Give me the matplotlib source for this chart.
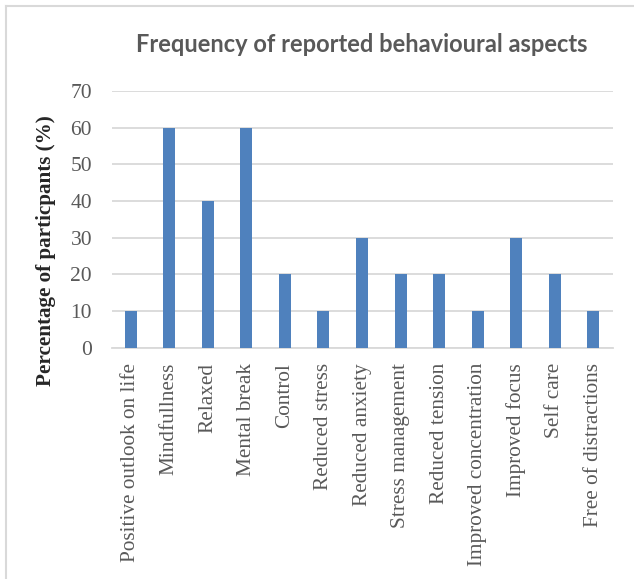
import matplotlib
matplotlib.use("Agg")
import matplotlib.pyplot as plt
from matplotlib.lines import Line2D

categories = [
    "Positive outlook on life", "Mindfullness", "Relaxed", "Mental break",
    "Control", "Reduced stress", "Reduced anxiety", "Stress management",
    "Reduced tension", "Improved concentration", "Improved focus",
    "Self care", "Free of distractions",
]
percentages = [10, 60, 40, 60, 20, 10, 30, 20, 20, 10, 30, 20, 10]
y_ticks = [0, 10, 20, 30, 40, 50, 60, 70]

W, H = 634, 579
fig = plt.figure(figsize=(W / 100, H / 100), dpi=100)
ax = fig.add_axes([111.5 / W, 1 - 347.7 / H, 501 / W, (347.7 - 91) / H])

bar_color = "#4f81bd"
grid_color = "#d9d9d9"
text_grey = "#595959"

x = list(range(len(categories)))
ax.bar(x, percentages, width=0.31, color=bar_color, zorder=3)
ax.set_xlim(-0.5, len(categories) - 0.5)
ax.set_ylim(0, 70)
ax.set_yticks(y_ticks)
ax.yaxis.grid(True, color=grid_color, linewidth=1.3, zorder=0)
ax.set_axisbelow(True)
for side in ("top", "right", "left"):
    ax.spines[side].set_visible(False)
ax.spines["bottom"].set_color(grid_color)
ax.spines["bottom"].set_linewidth(1.3)
ax.tick_params(axis="both", length=0)
ax.tick_params(axis="y", pad=14)
ax.tick_params(axis="x", pad=11)

ax.set_xticks(x)
ax.set_xticklabels(categories, rotation=90, fontfamily="Liberation Serif",
                   fontsize=15.3, color=text_grey)
for lab in ax.get_yticklabels():
    lab.set_fontfamily("Liberation Serif")
    lab.set_fontsize(15.5)
    lab.set_color(text_grey)

fig.text(362 / W, 1 - 44 / H, "Frequency of reported behavioural aspects",
         ha="center", va="center", fontfamily="Lato", fontweight="bold",
         fontsize=17, color=text_grey)
fig.text(46 / W, 1 - 251 / H, "Percentage of particpants (%)",
         ha="center", va="center", rotation=90, fontfamily="Liberation Serif",
         fontweight="bold", fontsize=15.2, color="#262626")

# chart frame (top and left edges)
fig.add_artist(Line2D([6 / W, 1], [1 - 6 / H, 1 - 6 / H], color=grid_color,
                      linewidth=1.5, transform=fig.transFigure))
fig.add_artist(Line2D([6 / W, 6 / W], [0, 1 - 6 / H], color=grid_color,
                      linewidth=1.5, transform=fig.transFigure))

fig.savefig("out.png", dpi=100, facecolor="white")
